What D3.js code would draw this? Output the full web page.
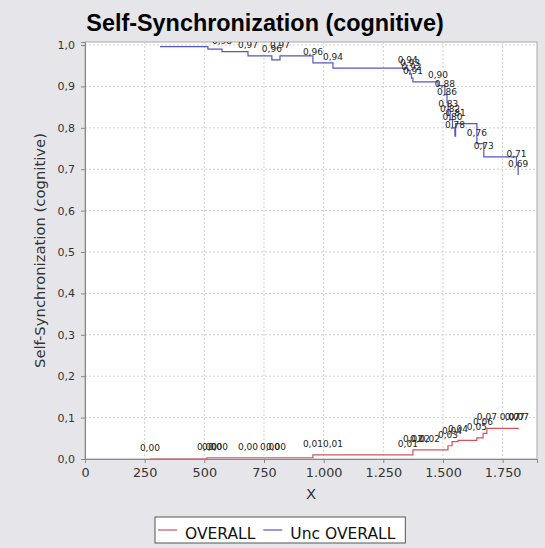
<!DOCTYPE html>
<html>
<head>
<meta charset="utf-8">
<script src="https://cdn.jsdelivr.net/npm/d3@7"></script>
<style>
  body { margin: 0; background: #e6e6ea; }
  svg { display: block; }
  .tick text { fill: #333; }
</style>
</head>
<body>
<script>
var width = 545,
  height = 548;

// plot area
var plotLeft = 85, plotRight = 537, plotTop = 42, plotBottom = 459;

// data
var overallX = [272, 511, 532, 557, 683, 775, 800, 955, 1039, 1353, 1374, 1404, 1445, 1521, 1538, 1563, 1642, 1668, 1684, 1780, 1801, 1818];
var overallY = [0, 0.003, 0.003, 0.003, 0.003, 0.003, 0.003, 0.010, 0.010, 0.010, 0.022, 0.022, 0.022, 0.032, 0.042, 0.045, 0.051, 0.062, 0.074, 0.074, 0.074, 0.074];

var uncX = [314, 515, 574, 683, 783, 817, 955, 1039, 1352, 1362, 1368, 1374, 1479, 1508, 1517, 1522, 1530, 1540, 1550, 1553, 1642, 1671, 1808, 1815];
var uncY = [0.996, 0.990, 0.984, 0.974, 0.964, 0.974, 0.957, 0.944, 0.938, 0.930, 0.920, 0.911, 0.902, 0.880, 0.860, 0.830, 0.820, 0.800, 0.780, 0.810, 0.762, 0.730, 0.710, 0.686];

var xTicks = [0, 250, 500, 750, 1000, 1250, 1500, 1750];
var yTicks = [0, 0.1, 0.2, 0.3, 0.4, 0.5, 0.6, 0.7, 0.8, 0.9, 1.0];

var seriesNames = ["OVERALL", "Unc OVERALL"];
var seriesColors = ["#d9505c", "#5555c4"];

var svg = d3.select("body").append("svg")
  .attr("width", width)
  .attr("height", height)

var x = d3.scaleLinear().domain([0, 1894]).range([plotLeft, plotRight]);
var y = d3.scaleLinear().domain([0, 1.0073]).range([plotBottom, plotTop]);

// plot background
svg.append("rect")
  .attr("x", plotLeft).attr("y", plotTop)
  .attr("width", plotRight - plotLeft).attr("height", plotBottom - plotTop)
  .attr("fill", "white")
  .attr("stroke", "#aaa")

svg.append("clipPath").attr("id", "clip")
  .append("rect")
  .attr("x", plotLeft).attr("y", plotTop)
  .attr("width", plotRight - plotLeft).attr("height", plotBottom - plotTop)

// grid
var grid = svg.append("g").attr("stroke", "#d0d0d0").attr("stroke-dasharray", "2,2");
grid.selectAll(".vg").data(xTicks.slice(1)).enter().append("line")
  .attr("x1", d => x(d)).attr("x2", d => x(d))
  .attr("y1", plotTop).attr("y2", plotBottom)
grid.selectAll(".hg").data(yTicks.slice(1)).enter().append("line")
  .attr("x1", plotLeft).attr("x2", plotRight)
  .attr("y1", d => y(d)).attr("y2", d => y(d))

// title
svg.append("text")
  .attr("x", 265).attr("y", 31)
  .attr("text-anchor", "middle")
  .style("font-family", "Liberation Sans, Arial, sans-serif")
  .style("font-weight", "bold")
  .style("font-size", "23.4px")
  .text("Self-Synchronization (cognitive)")

var fmtLabel = function (v) { return d3.format(".2f")(v).replace(".", ","); };

var series = [
  { name: seriesNames[0], color: seriesColors[0], pts: overallX.map((d, i) => [d, overallY[i]]) },
  { name: seriesNames[1], color: seriesColors[1], pts: uncX.map((d, i) => [d, uncY[i]]) }
];

var line = d3.line()
  .x(d => x(d[0]))
  .y(d => y(d[1]))
  .curve(d3.curveStepAfter);

var plot = svg.append("g").attr("clip-path", "url(#clip)");

series.forEach(function (s) {
  plot.append("path")
    .attr("d", line(s.pts))
    .attr("fill", "none")
    .attr("stroke", s.color)
    .attr("stroke-width", 1.2)
});

// item labels
series.forEach(function (s) {
  plot.append("g").selectAll("text")
    .data(s.pts).enter().append("text")
    .attr("x", d => x(d[0]))
    .attr("y", d => y(d[1]) - 8)
    .attr("text-anchor", "middle")
    .style("font-family", "DejaVu Sans, sans-serif")
    .style("font-size", "9px")
    .attr("fill", "#222")
    .text(d => fmtLabel(d[1]))
});

// axes
var xAxis = svg.append("g")
  .attr("transform", "translate(0," + plotBottom + ")")
  .call(d3.axisBottom(x).tickValues(xTicks).tickSize(4).tickPadding(5)
    .tickFormat(d => d3.format(",")(d).replace(/,/g, ".")))
xAxis.selectAll("text").style("font-family", "DejaVu Sans, sans-serif").style("font-size", "12.8px")
xAxis.select(".domain").attr("stroke", "#888")
xAxis.selectAll(".tick line").attr("stroke", "#888")

var yAxis = svg.append("g")
  .attr("transform", "translate(" + plotLeft + ",0)")
  .call(d3.axisLeft(y).tickValues(yTicks).tickSize(4).tickPadding(6)
    .tickFormat(d => d3.format(".1f")(d).replace(".", ",")))
yAxis.selectAll("text").style("font-family", "DejaVu Sans, sans-serif").style("font-size", "11px")
yAxis.select(".domain").attr("stroke", "#888")
yAxis.selectAll(".tick line").attr("stroke", "#888")

// axis labels
svg.append("text")
  .attr("x", (plotLeft + plotRight) / 2).attr("y", 499)
  .attr("text-anchor", "middle")
  .style("font-family", "DejaVu Sans, sans-serif")
  .style("font-size", "14.8px")
  .attr("fill", "#333")
  .text("X")

svg.append("text")
  .attr("transform", "translate(45," + (plotTop + plotBottom) / 2 + ") rotate(-90)")
  .attr("text-anchor", "middle")
  .style("font-family", "DejaVu Sans, sans-serif")
  .style("font-size", "14.8px")
  .attr("fill", "#333")
  .text("Self-Synchronization (cognitive)")

// legend
var lg = svg.append("g");
var box = lg.append("rect")
  .attr("y", 517).attr("height", 26)
  .attr("fill", "white").attr("stroke", "#555")
var cx = 158;
series.forEach(function (s) {
  lg.append("line")
    .attr("x1", cx).attr("x2", cx + 19)
    .attr("y1", 530).attr("y2", 530)
    .attr("stroke", s.color).attr("stroke-width", 1.2)
  var t = lg.append("text")
    .attr("x", cx + 27).attr("y", 539)
    .style("font-family", "DejaVu Sans, sans-serif")
    .style("font-size", "15.5px")
    .attr("fill", "#111")
    .text(s.name)
  cx = cx + 27 + t.node().getComputedTextLength() + 8;
});
box.attr("x", 155).attr("width", cx - 155 + 2);
</script>
</body>
</html>
